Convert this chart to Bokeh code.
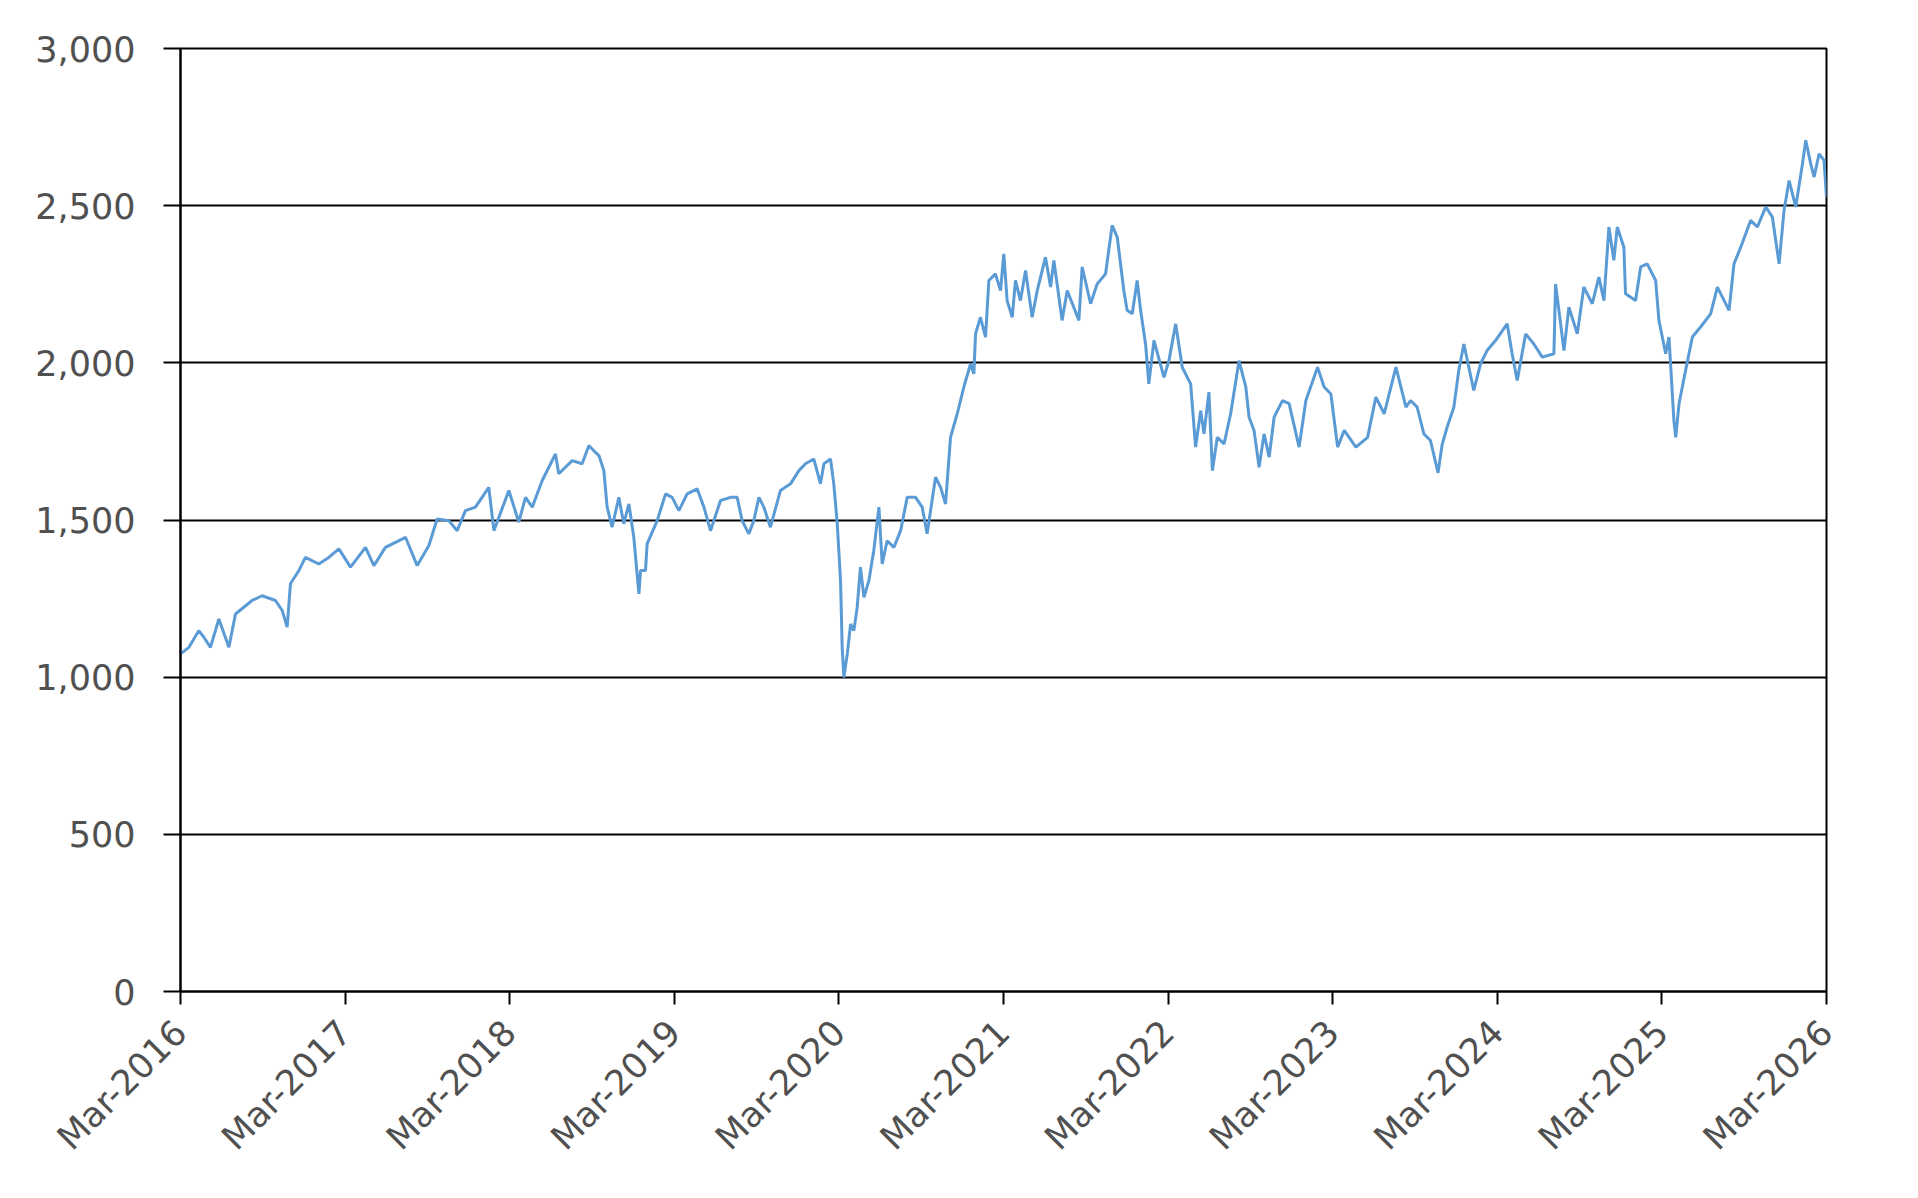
import math
from bokeh.plotting import figure
from bokeh.models import FixedTicker, NumeralTickFormatter, Range1d
from bokeh.embed import file_html
from bokeh.resources import INLINE

# x: years elapsed since Mar-2016 ; y: index level
tick_labels = ["Mar-2016", "Mar-2017", "Mar-2018", "Mar-2019", "Mar-2020", "Mar-2021",
               "Mar-2022", "Mar-2023", "Mar-2024", "Mar-2025", "Mar-2026"]
y_ticks = [0, 500, 1000, 1500, 2000, 2500, 3000]

years = [
    0.000, 0.051, 0.111, 0.142, 0.182, 0.233, 0.294, 0.334, 0.435, 0.496,
    0.577, 0.618, 0.648, 0.668, 0.719, 0.759, 0.840, 0.901, 0.962, 1.033,
    1.124, 1.175, 1.245, 1.367, 1.438, 1.509, 1.559, 1.630, 1.681, 1.731,
    1.792, 1.873, 1.904, 1.995, 2.055, 2.096, 2.137, 2.197, 2.278, 2.298,
    2.380, 2.440, 2.481, 2.521, 2.542, 2.572, 2.592, 2.622, 2.663, 2.693,
    2.724, 2.754, 2.785, 2.795, 2.825, 2.835, 2.896, 2.947, 2.987, 3.028,
    3.078, 3.139, 3.180, 3.220, 3.281, 3.342, 3.382, 3.412, 3.453, 3.483,
    3.514, 3.544, 3.584, 3.645, 3.706, 3.757, 3.797, 3.848, 3.888, 3.909,
    3.949, 3.969, 3.990, 4.010, 4.020, 4.030, 4.051, 4.071, 4.091, 4.111,
    4.131, 4.152, 4.182, 4.212, 4.243, 4.263, 4.293, 4.334, 4.375, 4.415,
    4.466, 4.506, 4.536, 4.557, 4.587, 4.618, 4.648, 4.678, 4.719, 4.759,
    4.800, 4.820, 4.830, 4.860, 4.891, 4.911, 4.951, 4.982, 5.002, 5.022,
    5.053, 5.073, 5.103, 5.134, 5.174, 5.205, 5.255, 5.286, 5.306, 5.356,
    5.387, 5.458, 5.478, 5.529, 5.569, 5.620, 5.660, 5.691, 5.731, 5.751,
    5.782, 5.812, 5.833, 5.863, 5.883, 5.914, 5.975, 6.005, 6.046, 6.086,
    6.137, 6.167, 6.198, 6.218, 6.248, 6.269, 6.299, 6.340, 6.380, 6.431,
    6.472, 6.492, 6.522, 6.553, 6.583, 6.614, 6.644, 6.695, 6.735, 6.796,
    6.837, 6.908, 6.948, 6.989, 7.030, 7.070, 7.141, 7.212, 7.262, 7.313,
    7.384, 7.445, 7.473, 7.513, 7.554, 7.594, 7.640, 7.665, 7.695, 7.736,
    7.766, 7.797, 7.827, 7.857, 7.898, 7.938, 7.989, 8.060, 8.090, 8.121,
    8.172, 8.222, 8.273, 8.344, 8.354, 8.405, 8.435, 8.486, 8.526, 8.577,
    8.617, 8.648, 8.678, 8.708, 8.729, 8.769, 8.779, 8.840, 8.871, 8.911,
    8.962, 8.982, 9.023, 9.043, 9.073, 9.084, 9.104, 9.144, 9.185, 9.235,
    9.296, 9.337, 9.408, 9.438, 9.479, 9.539, 9.580, 9.631, 9.671, 9.712,
    9.742, 9.773, 9.813, 9.854, 9.874, 9.904, 9.925, 9.955, 9.985, 10.000,
]

values = [
    1074, 1095, 1148, 1127, 1095, 1185, 1095, 1201, 1244, 1259,
    1244, 1212, 1159, 1297, 1339, 1381, 1360, 1381, 1408, 1350,
    1413, 1355, 1413, 1445, 1355, 1419, 1503, 1498, 1466, 1530,
    1541, 1604, 1466, 1594, 1493, 1572, 1541, 1625, 1710, 1647,
    1689, 1679, 1737, 1715, 1705, 1657, 1541, 1477, 1572, 1488,
    1551, 1445, 1265, 1339, 1339, 1424, 1498, 1583, 1572, 1530,
    1583, 1599, 1541, 1466, 1562, 1572, 1572, 1498, 1456, 1498,
    1572, 1541, 1477, 1594, 1615, 1657, 1679, 1694, 1615, 1679,
    1694, 1615, 1488, 1307, 1095, 999, 1074, 1169, 1148, 1222,
    1350, 1254, 1307, 1403, 1541, 1360, 1434, 1413, 1466, 1572,
    1572, 1541, 1456, 1530, 1636, 1604, 1551, 1763, 1838, 1923,
    1997, 1965, 2092, 2145, 2082, 2262, 2283, 2230, 2347, 2198,
    2145, 2262, 2198, 2294, 2145, 2230, 2336, 2241, 2326, 2135,
    2230, 2135, 2305, 2188, 2251, 2283, 2437, 2400, 2230, 2167,
    2156, 2262, 2167, 2060, 1933, 2071, 1954, 2007, 2124, 1986,
    1933, 1732, 1848, 1774, 1907, 1657, 1763, 1742, 1838, 2007,
    1923, 1827, 1785, 1668, 1774, 1700, 1827, 1880, 1870, 1732,
    1880, 1986, 1923, 1901, 1732, 1785, 1732, 1763, 1891, 1838,
    1986, 1859, 1880, 1859, 1774, 1753, 1650, 1740, 1795, 1859,
    1976, 2060, 1986, 1912, 1997, 2039, 2071, 2124, 2029, 1944,
    2092, 2060, 2018, 2029, 2251, 2039, 2177, 2092, 2241, 2188,
    2273, 2198, 2432, 2326, 2432, 2368, 2220, 2198, 2305, 2315,
    2262, 2135, 2029, 2082, 1816, 1763, 1870, 1976, 2082, 2114,
    2156, 2241, 2167, 2315, 2368, 2453, 2432, 2496, 2464, 2315,
    2485, 2580, 2496, 2633, 2708, 2633, 2591, 2665, 2644, 2527,
]

FONT = "DejaVu Sans"
TEXT_COLOR = "#505050"

p = figure(
    frame_width=1646, frame_height=943,
    x_range=Range1d(0, 10), y_range=Range1d(0, 3000),
    output_backend="svg", toolbar_location=None,
    min_border_left=180, min_border_top=48, min_border_right=70, min_border_bottom=185,
    background_fill_color="white", border_fill_color="white",
)

p.line(years, values, line_color="#5b9bd5", line_width=3)

p.outline_line_color = "black"
p.outline_line_width = 2
p.xgrid.visible = False
p.ygrid.grid_line_color = "black"
p.ygrid.grid_line_width = 2

p.xaxis.ticker = FixedTicker(ticks=list(range(len(tick_labels))))
p.xaxis.major_label_overrides = {i: lab for i, lab in enumerate(tick_labels)}
p.xaxis.major_label_orientation = math.pi / 4
p.xaxis.major_tick_out = 13
p.xaxis.major_label_standoff = 22

p.yaxis.ticker = FixedTicker(ticks=y_ticks)
p.yaxis.formatter = NumeralTickFormatter(format="0,0")
p.yaxis.major_tick_out = 17
p.yaxis.major_label_standoff = 28

for ax in (p.xaxis, p.yaxis):
    ax.axis_line_color = "black"
    ax.axis_line_width = 2
    ax.major_tick_line_color = "black"
    ax.major_tick_line_width = 2
    ax.major_tick_in = 0
    ax.minor_tick_line_color = None
    ax.major_label_text_font = FONT
    ax.major_label_text_font_size = "35px"
    ax.major_label_text_color = TEXT_COLOR

open("out.html", "w").write(file_html(p, INLINE))
